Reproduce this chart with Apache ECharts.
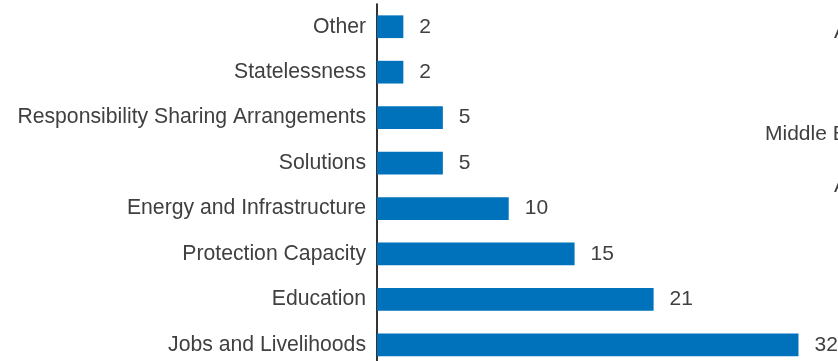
<!DOCTYPE html>
<html>
<head>
<meta charset="utf-8">
<script src="https://cdn.jsdelivr.net/npm/echarts@6/dist/echarts.min.js"></script>
<style>
html,body{margin:0;padding:0;background:#fff;overflow:hidden;}
#chart{width:838px;height:372px;}
</style>
</head>
<body>
<div id="chart"></div>
<script>
// Data (top to bottom as shown)
var categories = ["Other", "Statelessness", "Responsibility Sharing Arrangements", "Solutions", "Energy and Infrastructure", "Protection Capacity", "Education", "Jobs and Livelihoods"];
var values = [2, 2, 5, 5, 10, 15, 21, 32];
// Labels of the neighbouring (cropped) chart at the right edge
var sideLabels = ["Africa", "Middle East and North Africa", "Asia and the Pacific"];

var FONT = "'Liberation Sans', Arial, sans-serif";
var TEXT = "#404040";
var chart = echarts.init(document.getElementById('chart'), null, {renderer: 'canvas'});

chart.setOption({
  animation: false,
  grid: {left: 377, top: 4, width: 462.4, height: 363.6, containLabel: false},
  xAxis: {
    type: 'value', min: 0, max: 35,
    show: false
  },
  yAxis: {
    type: 'category', data: categories, inverse: true,
    axisLine: {show: true, lineStyle: {color: '#000', width: 1.6}},
    axisTick: {show: false},
    axisLabel: {color: TEXT, fontFamily: FONT, fontSize: 21.2, margin: 11}
  },
  series: [{
    type: 'bar', data: values, barWidth: '50%',
    itemStyle: {color: '#0072BC'},
    label: {show: true, position: 'right', distance: 16, color: TEXT, fontFamily: FONT, fontSize: 21}
  }],
  graphic: [
    {type: 'text', left: 834, top: 22, style: {text: sideLabels[0], fill: TEXT, font: '21px ' + FONT}},
    {type: 'text', left: 765, top: 124, style: {text: sideLabels[1], fill: TEXT, font: '21px ' + FONT}},
    {type: 'text', left: 834, top: 176, style: {text: sideLabels[2], fill: TEXT, font: '21px ' + FONT}}
  ]
});
</script>
</body>
</html>
